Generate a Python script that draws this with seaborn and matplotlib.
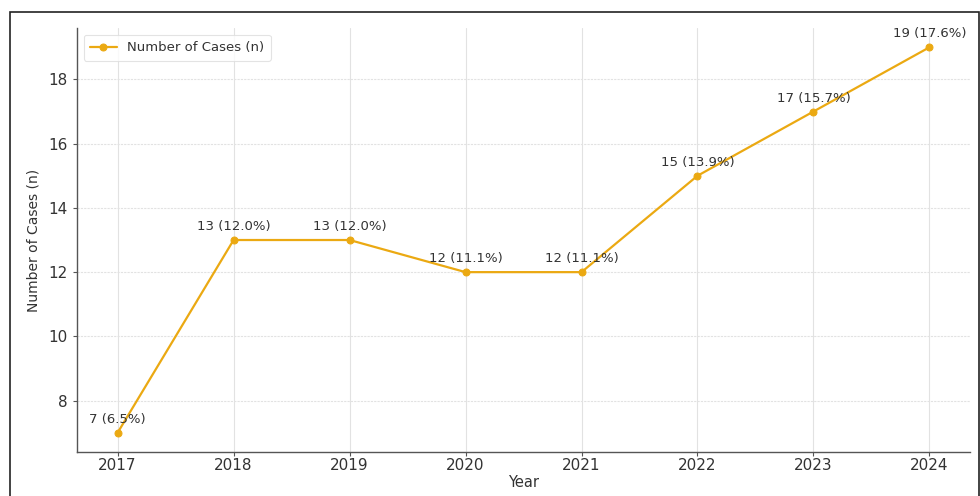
import matplotlib
matplotlib.use("Agg")
import matplotlib.pyplot as plt
import seaborn as sns
import pandas as pd
from matplotlib.patches import Rectangle

years = [2017, 2018, 2019, 2020, 2021, 2022, 2023, 2024]
cases = [7, 13, 13, 12, 12, 15, 17, 19]
percents = ["6.5%", "12.0%", "12.0%", "11.1%", "11.1%", "13.9%", "15.7%", "17.6%"]
yticks = [8, 10, 12, 14, 16, 18]

sns.set_style("white")
plt.rcParams['font.family'] = ['DejaVu Sans']

df = pd.DataFrame({"Year": years, "Cases": cases})

fig = plt.figure(figsize=(9.8, 4.96), dpi=100)
ax = fig.add_axes([0.0786, 0.0887, 0.9112, 0.8548])

color = "#EBA912"
sns.lineplot(data=df, x="Year", y="Cases", ax=ax, color=color, marker="o",
             markersize=5, markeredgecolor=color, linewidth=1.6,
             label="Number of Cases (n)")

for x, y, p in zip(years, cases, percents):
    ax.annotate(f"{y} ({p})", (x, y), xytext=(0, 5), textcoords="offset points",
                ha="center", va="bottom", fontsize=9.5, color="#333333")

ax.set_xticks(years)
ax.set_yticks(yticks)
ax.grid(True, axis="x", color="#e2e2e2", linewidth=0.8)
ax.grid(True, axis="y", color="#e2e2e2", linewidth=0.8, linestyle=(0, (2, 1)))
ax.set_axisbelow(True)

for s in ["top", "right"]:
    ax.spines[s].set_visible(False)
for s in ["left", "bottom"]:
    ax.spines[s].set_color("#555555")
    ax.spines[s].set_linewidth(1.0)

ax.tick_params(axis="both", which="both", direction="out", length=3, width=0.8,
               colors="#555555", labelcolor="#333333", labelsize=11, bottom=True, left=True)
ax.tick_params(axis="x", pad=1.5)
ax.set_xlabel("Year", fontsize=10.5, color="#333333", labelpad=1)
ax.set_ylabel("Number of Cases (n)", fontsize=10, color="#333333", labelpad=6)

leg = ax.legend(loc="upper left", fontsize=9.5, frameon=True, borderpad=0.5)
leg.get_frame().set_edgecolor("#dddddd")
leg.get_frame().set_linewidth(0.8)
for t in leg.get_texts():
    t.set_color("#333333")

frame = Rectangle((10 / 980, -0.02), 969 / 980, (496 - 12) / 496 + 0.02,
                  transform=fig.transFigure, fill=False, edgecolor="#222222",
                  linewidth=1.2, clip_on=False)
fig.patches.append(frame)

fig.savefig("out.png", dpi=100)
